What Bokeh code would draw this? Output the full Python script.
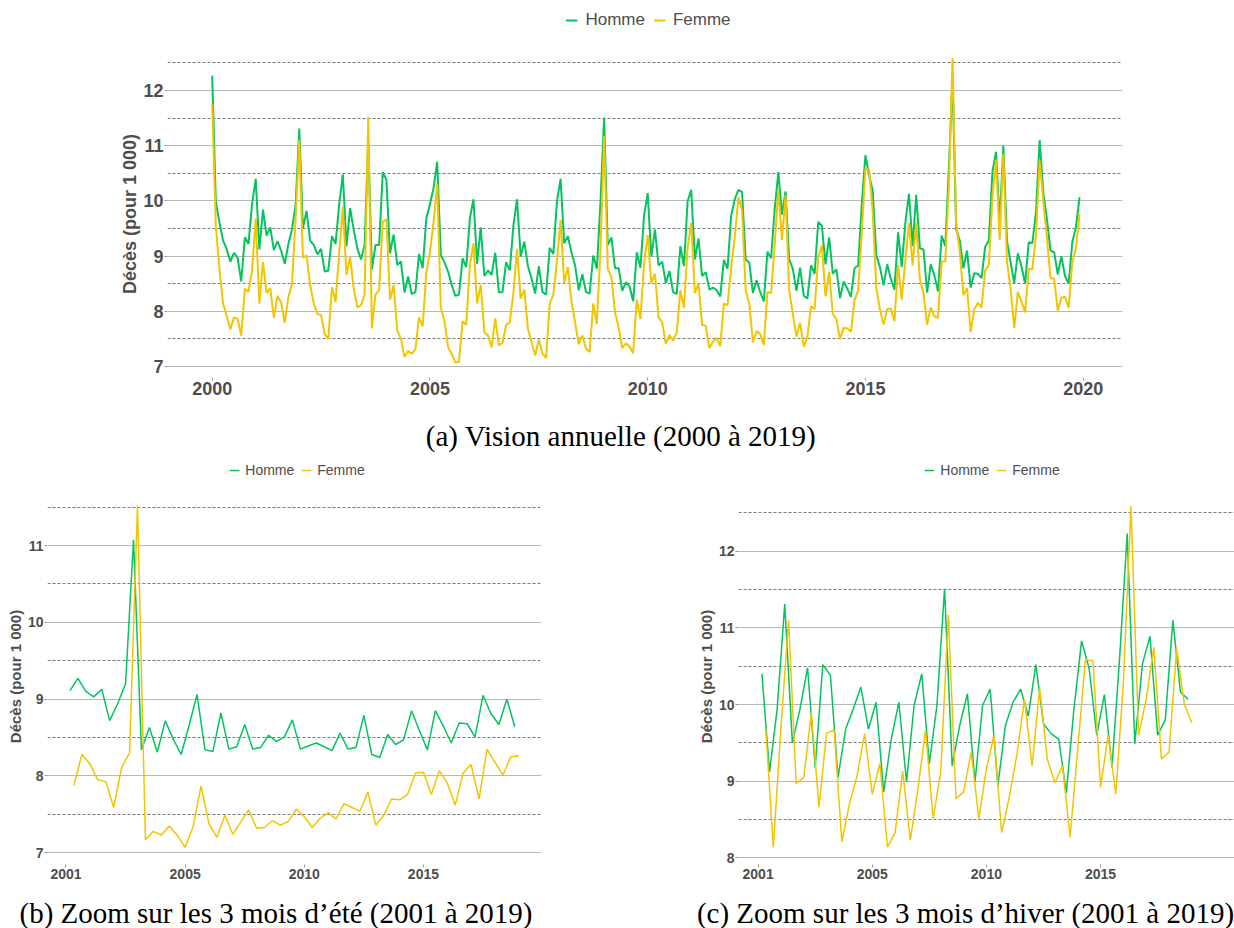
import numpy as np
from bokeh.plotting import figure
from bokeh.models import Range1d, FixedTicker, Legend, LegendItem, Label
from bokeh.layouts import column, row
from bokeh.embed import file_html
from bokeh.resources import INLINE

# ---------------- data (deaths per 1 000, monthly, Jan..Dec) ----------------
YEARS = list(range(2000, 2020))
HOMME = [
    [12.27, 9.98, 9.61, 9.28, 9.13, 8.90, 9.06, 8.97, 8.54, 9.34, 9.22, 9.95],
    [10.40, 9.12, 9.84, 9.37, 9.52, 9.11, 9.27, 9.10, 8.86, 9.22, 9.49, 9.94],
    [11.31, 9.50, 9.82, 9.28, 9.20, 9.03, 9.13, 8.72, 8.74, 9.36, 9.22, 9.94],
    [10.48, 9.18, 9.87, 9.48, 9.14, 8.94, 9.20, 11.07, 8.76, 9.20, 9.20, 10.52],
    [10.38, 9.05, 9.39, 8.84, 8.90, 8.34, 8.63, 8.31, 8.35, 9.04, 8.78, 9.68],
    [9.94, 10.23, 10.71, 9.02, 8.89, 8.72, 8.48, 8.28, 8.30, 8.96, 8.80, 9.68],
    [10.03, 8.86, 9.52, 8.64, 8.74, 8.66, 9.06, 8.34, 8.35, 8.89, 8.74, 9.55],
    [10.03, 8.99, 9.26, 8.82, 8.59, 8.32, 8.82, 8.35, 8.30, 9.15, 9.04, 9.99],
    [10.40, 9.23, 9.36, 9.07, 8.83, 8.38, 8.67, 8.35, 8.32, 9.01, 8.77, 9.99],
    [11.51, 9.20, 9.34, 8.78, 8.78, 8.37, 8.53, 8.45, 8.18, 9.07, 8.79, 9.73],
    [10.14, 8.99, 9.48, 8.83, 8.90, 8.51, 8.73, 8.35, 8.31, 9.18, 8.82, 9.99],
    [10.20, 8.94, 9.32, 8.64, 8.71, 8.39, 8.43, 8.38, 8.27, 8.93, 8.77, 9.73],
    [10.03, 10.20, 10.16, 8.94, 8.88, 8.33, 8.56, 8.35, 8.18, 9.08, 8.96, 9.85],
    [10.52, 9.75, 10.17, 8.94, 8.77, 8.37, 8.79, 8.28, 8.23, 8.83, 8.68, 9.62],
    [9.55, 8.85, 9.34, 8.68, 8.76, 8.24, 8.54, 8.41, 8.26, 8.78, 8.83, 9.94],
    [10.83, 10.47, 10.19, 9.01, 8.80, 8.47, 8.85, 8.59, 8.39, 9.43, 8.80, 9.60],
    [10.13, 9.18, 10.11, 9.14, 9.12, 8.34, 8.85, 8.65, 8.36, 9.37, 9.18, 10.60],
    [12.23, 9.49, 9.28, 8.78, 9.10, 8.43, 8.69, 8.68, 8.60, 9.17, 9.28, 10.53],
    [10.89, 9.60, 11.00, 9.28, 8.89, 8.51, 9.05, 8.81, 8.50, 9.25, 9.23, 9.80],
    [11.10, 10.16, 9.68, 9.10, 9.07, 8.67, 9.00, 8.64, 8.50, 9.25, 9.52, 10.07],
]
FEMME = [
    [11.76, 9.55, 8.77, 8.14, 7.92, 7.67, 7.89, 7.86, 7.56, 8.41, 8.35, 8.74],
    [9.68, 8.14, 8.89, 8.33, 8.42, 7.88, 8.28, 8.16, 7.79, 8.26, 8.50, 9.70],
    [11.10, 8.97, 9.01, 8.47, 8.14, 7.95, 7.93, 7.59, 7.50, 8.44, 8.17, 9.05],
    [9.89, 8.66, 8.98, 8.41, 8.07, 8.11, 8.30, 11.52, 7.69, 8.30, 8.38, 9.63],
    [9.66, 8.21, 8.47, 7.65, 7.51, 7.17, 7.28, 7.23, 7.31, 7.89, 7.73, 8.70],
    [9.07, 9.62, 10.31, 8.06, 7.83, 7.35, 7.23, 7.07, 7.08, 7.82, 7.75, 8.83],
    [9.23, 8.14, 8.48, 7.62, 7.56, 7.34, 7.87, 7.38, 7.43, 7.75, 7.80, 8.33],
    [9.13, 8.23, 8.39, 7.68, 7.44, 7.20, 7.49, 7.24, 7.15, 8.14, 8.30, 8.90],
    [9.66, 8.51, 8.80, 8.18, 7.80, 7.40, 7.56, 7.32, 7.26, 8.14, 7.77, 9.12],
    [11.17, 8.77, 8.62, 7.98, 7.71, 7.33, 7.42, 7.36, 7.24, 8.21, 7.86, 8.86],
    [9.38, 8.51, 8.68, 7.89, 7.80, 7.41, 7.57, 7.47, 7.61, 8.38, 8.06, 9.16],
    [9.60, 8.33, 8.50, 7.75, 7.74, 7.33, 7.45, 7.52, 7.37, 8.14, 8.11, 8.79],
    [9.34, 10.07, 9.83, 8.38, 8.14, 7.44, 7.64, 7.59, 7.39, 8.35, 8.33, 9.20],
    [10.21, 9.29, 10.10, 8.38, 7.95, 7.54, 7.79, 7.36, 7.53, 8.09, 8.04, 8.98],
    [9.20, 8.27, 8.72, 7.95, 7.86, 7.49, 7.70, 7.69, 7.63, 8.20, 8.38, 9.42],
    [10.58, 10.57, 9.80, 8.42, 8.03, 7.76, 8.04, 8.05, 7.82, 8.84, 8.21, 8.92],
    [9.60, 8.83, 9.61, 8.58, 8.33, 7.76, 8.07, 7.91, 7.88, 8.90, 8.90, 10.29],
    [12.59, 9.60, 9.07, 8.29, 8.42, 7.62, 8.04, 8.15, 8.07, 8.74, 8.84, 10.07],
    [10.75, 9.29, 10.85, 8.90, 8.41, 7.70, 8.35, 8.18, 7.98, 8.77, 8.76, 9.38],
    [10.73, 10.01, 9.34, 8.60, 8.59, 8.01, 8.25, 8.26, 8.06, 8.89, 9.13, 9.76],
]
SUMMER_MONTHS = [6, 7, 8]
WINTER_MONTHS = [1, 2, 12]
ZOOM_YEARS = list(range(2001, 2020))

TOP_XTICKS = [2000, 2005, 2010, 2015, 2020]
TOP_XLABELS = ["2000", "2005", "2010", "2015", "2020"]
ZOOM_XTICKS = [2000, 2005, 2010, 2015]
ZOOM_XLABELS = ["2001", "2005", "2010", "2015"]

LEGEND_LABELS = ["Homme", "Femme"]
YLABEL = "Décès (pour 1 000)"
CAP_A = "(a) Vision annuelle (2000 à 2019)"
CAP_B = "(b) Zoom sur les 3 mois d’été (2001 à 2019)"
CAP_C = "(c) Zoom sur les 3 mois d’hiver (2001 à 2019)"

GREEN = "#05c35e"
YELLOW = "#f3c500"
TXT = "#4d4d4d"
SANS = "Liberation Sans"
SERIF = "Liberation Serif"


def blank_fig(w, h, mbl=0, mbr=0):
    p = figure(width=w, height=h, x_range=Range1d(0, w - mbl - mbr), y_range=Range1d(0, h),
               min_border_left=mbl, min_border_right=mbr, min_border_top=0, min_border_bottom=0,
               x_axis_location=None, y_axis_location=None, title=None, frame_align=False,
               toolbar_location=None, tools="", output_backend="svg")
    p.outline_line_color = None
    p.grid.grid_line_color = None
    p.background_fill_color = "white"
    p.border_fill_color = "white"
    return p


def legend_fig(w, h, mbl, mbr, size, lw, glyph_w, standoff, spacing, xs, ys):
    # the two series are drawn out of this strip's view; only their legend keys show
    p = blank_fig(w, h, mbl, mbr)
    r1 = p.line(xs[0], ys[0], line_color=GREEN, line_width=lw)
    r2 = p.line(xs[1], ys[1], line_color=YELLOW, line_width=lw)
    leg = Legend(items=[LegendItem(label=LEGEND_LABELS[0], renderers=[r1]),
                        LegendItem(label=LEGEND_LABELS[1], renderers=[r2])],
                 orientation="horizontal", location="center",
                 border_line_color=None, background_fill_alpha=0,
                 padding=0, margin=0, spacing=spacing,
                 label_standoff=standoff, glyph_width=glyph_w,
                 glyph_height=14, label_height=14,
                 label_text_font=SANS, label_text_font_size=size,
                 label_text_color=TXT)
    p.add_layout(leg, "center")
    return p


def caption_fig(w, h, x, y, text):
    p = blank_fig(w, h)
    p.add_layout(Label(x=x, y=y, text=text, text_align="center", text_baseline="middle",
                       text_font=SERIF, text_font_size="29px", text_color="black"))
    return p


def main_fig(xr, yr, w, h, mbl, mbr, mbt, mbb, yt, ymt, xt, xl,
             tick_size, ylab_size, ylab_standoff):
    p = figure(width=w, height=h, title=None, frame_align=False,
               x_range=Range1d(*xr), y_range=Range1d(*yr),
               min_border_left=mbl, min_border_right=mbr,
               min_border_top=mbt, min_border_bottom=mbb,
               toolbar_location=None, tools="", output_backend="svg")
    p.outline_line_color = None
    p.background_fill_color = "white"
    p.border_fill_color = "white"
    p.xgrid.grid_line_color = None
    p.ygrid.ticker = FixedTicker(ticks=yt, minor_ticks=ymt)
    p.ygrid.grid_line_color = "#b9b9b9"
    p.ygrid.grid_line_width = 1
    p.ygrid.minor_grid_line_color = "#7a7a7a"
    p.ygrid.minor_grid_line_dash = "3 2"
    p.ygrid.minor_grid_line_width = 1
    p.yaxis.ticker = FixedTicker(ticks=yt)
    p.xaxis.ticker = FixedTicker(ticks=xt)
    p.xaxis.major_label_overrides = {t: l for t, l in zip(xt, xl)}
    for ax in (p.xaxis[0], p.yaxis[0]):
        ax.axis_line_color = None
        ax.major_tick_line_color = "#9a9a9a"
        ax.major_tick_out = 3
        ax.major_tick_in = 0
        ax.minor_tick_line_color = None
        ax.major_label_text_font = SANS
        ax.major_label_text_font_style = "bold"
        ax.major_label_text_font_size = tick_size
        ax.major_label_text_color = TXT
        ax.major_label_standoff = 1
    ya = p.yaxis[0]
    ya.axis_label = YLABEL
    ya.axis_label_text_font = SANS
    ya.axis_label_text_font_style = "bold"
    ya.axis_label_text_font_size = ylab_size
    ya.axis_label_text_color = TXT
    ya.axis_label_standoff = ylab_standoff
    return p


# ---------------- top panel: all months ----------------
h_all = np.array(HOMME).ravel()
f_all = np.array(FEMME).ravel()
x_all = np.array([y + m / 12.0 for y in YEARS for m in range(12)])

leg_top = legend_fig(1234, 40, 167, 105, "17px", 2, 12, 8, 8,
                     (x_all, x_all), (h_all, f_all))
top = main_fig((1998.974, 2020.903), (6.80, 12.725), 1234, 370, 167, 112, 10, 33,
               [7, 8, 9, 10, 11, 12], [7.5, 8.5, 9.5, 10.5, 11.5, 12.5],
               TOP_XTICKS, TOP_XLABELS, "18px", "18px", 0)
top.line(x_all, h_all, line_color=GREEN, line_width=2)
top.line(x_all, f_all, line_color=YELLOW, line_width=2)
cap_top = caption_fig(1234, 50, 620.5, 25, CAP_A)


# ---------------- zoom panels ----------------
def season(series, months):
    vals = []
    for y in ZOOM_YEARS:
        for m in months:
            vals.append(series[y - 2000][m - 1])
    return np.array(vals)


n_pts = len(ZOOM_YEARS) * 3
pos_h = 2000 + (np.arange(n_pts) + 0.5) / 3.0
pos_f = pos_h + 1.0 / 6.0
sum_h, sum_f = season(HOMME, SUMMER_MONTHS), season(FEMME, SUMMER_MONTHS)
win_h, win_f = season(HOMME, WINTER_MONTHS), season(FEMME, WINTER_MONTHS)

leg_bl = legend_fig(648, 20, 47, 101, "14px", 1.5, 10, 6, 7, (pos_h, pos_f), (sum_h, sum_f))
bl = main_fig((1999.224, 2019.954), (6.848, 11.742), 648, 408, 47, 107, 8, 24,
              [7, 8, 9, 10, 11], [7.5, 8.5, 9.5, 10.5, 11.5],
              ZOOM_XTICKS, ZOOM_XLABELS, "14px", "15px", 1)
bl.line(pos_h, sum_h, line_color=GREEN, line_width=1.5)
bl.line(pos_f, sum_f, line_color=YELLOW, line_width=1.5)
cap_bl = caption_fig(648, 40, 275.5, 16, CAP_B)

leg_br = legend_fig(586, 20, 102, 0, "14px", 1.5, 10, 6, 7, (pos_h, pos_f), (win_h, win_f))
br = main_fig((1999.141, 2020.867), (7.913, 12.818), 586, 408, 90, 0, 8, 24,
              [8, 9, 10, 11, 12], [8.5, 9.5, 10.5, 11.5, 12.5],
              ZOOM_XTICKS, ZOOM_XLABELS, "14px", "15px", 1)
br.line(pos_h, win_h, line_color=GREEN, line_width=1.5)
br.line(pos_f, win_f, line_color=YELLOW, line_width=1.5)
cap_br = caption_fig(586, 40, 317, 16, CAP_C)

layout = column(leg_top, top, cap_top,
                row(column(leg_bl, bl, cap_bl), column(leg_br, br, cap_br)))
open("out.html", "w").write(file_html(layout, INLINE))
